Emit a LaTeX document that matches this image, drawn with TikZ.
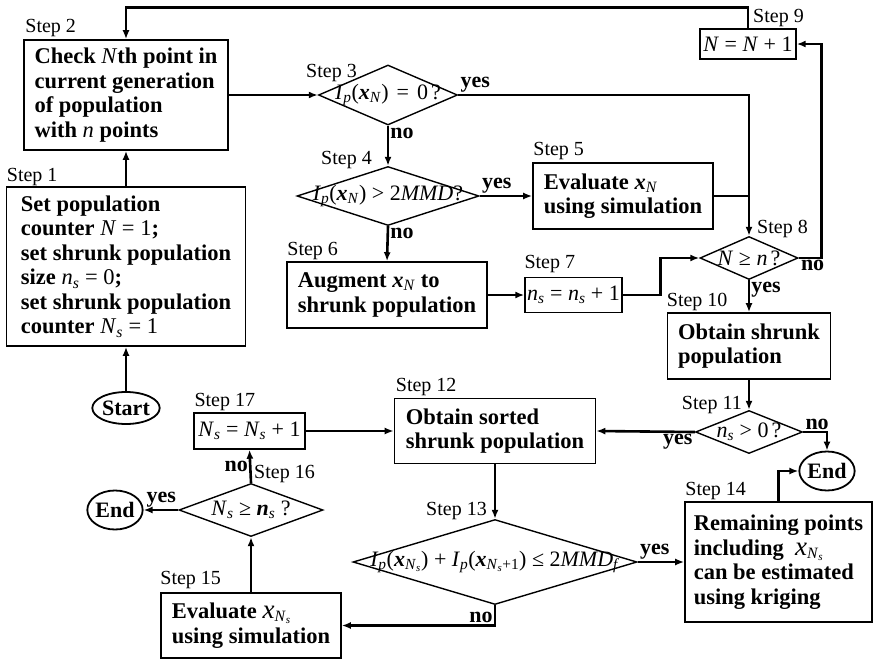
\documentclass[tikz,border=0pt]{standalone}
\usepackage{fontspec}
\setmainfont{Liberation Serif}
\usetikzlibrary{arrows.meta,positioning,shapes.geometric}
\newcommand\vi[1]{\textmd{\textit{#1}}}
\newcommand\vx{\textbf{\textit{x}}}
\newcommand\sub[1]{\textsubscript{#1}}
\newcommand\bigx{{\fontsize{27}{24.5}\selectfont\mdseries\itshape x}}
\newcommand\gap{\hspace{8pt}}
\tikzset{proc/.style={draw,line width=1.6pt,align=left,inner sep=0pt,
  font=\bfseries\fontsize{22.5}{24.5}\selectfont},
  eq/.style={draw,line width=1.4pt,inner sep=0pt,font=\fontsize{22}{24}\selectfont},
  dec/.style={diamond,draw,line width=1.4pt,inner sep=-80pt,font=\fontsize{22}{24}\selectfont},
  term/.style={ellipse,draw,line width=1.8pt,inner sep=0pt,font=\bfseries\fontsize{22}{24}\selectfont},
  lbl/.style={shape=rectangle,draw=none,inner sep=0pt,minimum width=0pt,minimum height=0pt,
    font=\mdseries\upshape\fontsize{20}{22}\selectfont},
  yn/.style={inner sep=1pt,font=\bfseries\fontsize{22}{24}\selectfont},
  arrow/.style={-{Latex[length=9pt,width=7pt]},line width=2.6pt}}
\begin{document}
\begin{tikzpicture}[x=1pt,y=-1pt]
\useasboundingbox (0,0) rectangle (873,659);
% left column
\node[proc,minimum width=204pt,minimum height=110pt,
  label={[lbl,anchor=base west,xshift=2pt,yshift=7pt]north west:Step 2}] (check) at (126,95)
  {Check \vi{N}th point in\\current generation\\of population\\with \vi{n} points};
\node[proc,minimum width=239pt,minimum height=159pt,
  label={[lbl,anchor=base west,xshift=1pt,yshift=5pt]north west:Step 1}] (init) at (126,266.5)
  {Set population\\counter \textmd{\textit{N} = 1};\\set shrunk population\\size \textmd{\textit{n}\sub{\textit{s}} = 0};\\set shrunk population\\counter \textmd{\textit{N}\sub{\textit{s}} = 1}};
\node[term,minimum width=64pt,minimum height=32pt] (start) at (126,408) {Start};
% top row
\node[eq,minimum width=96pt,minimum height=30pt,
  label={[lbl,anchor=base west,xshift=5pt,yshift=6pt]north:Step 9}] (incr) at (748,44)
  {\vi{N} = \vi{N} + 1};
\node[dec,minimum width=139pt,minimum height=60pt,
  label={[lbl,anchor=base east,xshift=-31pt,yshift=-13pt]north:Step 3}] (zero) at (388,95)
  {\vi{I}\sub{\vi{p}}(\vx\sub{\vi{N}})\gap=\gap0\hspace{3pt}?};
\node[dec,minimum width=182pt,minimum height=59pt,
  label={[lbl,anchor=base east,xshift=-16pt,yshift=1pt]north:Step 4}] (big) at (388,196)
  {\vi{I}\sub{\vi{p}}(\vx\sub{\vi{N}}) > 2\vi{MMD}?};
\node[proc,minimum width=180pt,minimum height=66pt,
  label={[lbl,anchor=base west,xshift=1pt,yshift=7pt]north west:Step 5}] (evalN) at (623,196)
  {Evaluate \vx\sub{\vi{N}}\\using simulation};
\node[proc,minimum width=200pt,minimum height=66pt,
  label={[lbl,anchor=base west,xshift=1pt,yshift=6pt]north west:Step 6}] (augment) at (387,295)
  {Augment \vx\sub{\vi{N}} to\\shrunk population};
\node[eq,minimum width=97pt,minimum height=35pt,
  label={[lbl,anchor=base west,xshift=0pt,yshift=8pt]north west:Step 7}] (count) at (573.5,295)
  {\vi{n}\sub{\vi{s}} = \vi{n}\sub{\vi{s}} + 1};
\node[dec,minimum width=98pt,minimum height=43pt,
  label={[lbl,anchor=base west,xshift=8pt,yshift=2pt]north:Step 8}] (done) at (749,258)
  {\vi{N} ≥ \vi{n}\hspace{3pt}?};
% right column
\node[proc,minimum width=163pt,minimum height=66pt,
  label={[lbl,anchor=base west,xshift=0pt,yshift=6pt]north west:Step 10}] (shrunk) at (749,346)
  {Obtain shrunk\\population};
\node[dec,minimum width=107pt,minimum height=43pt,
  label={[lbl,anchor=base east,xshift=-7pt,yshift=0pt]north:Step 11}] (empty) at (749,432)
  {\vi{n}\sub{\vi{s}} > 0\hspace{3pt}?};
\node[term,minimum width=54pt,minimum height=39pt] (endA) at (827,471) {End};
% bottom rows
\node[proc,minimum width=201pt,minimum height=65pt,
  label={[lbl,anchor=base west,xshift=2pt,yshift=6pt]north west:Step 12}] (sorted) at (495,431)
  {Obtain sorted\\shrunk population};
\node[eq,minimum width=111pt,minimum height=36pt,
  label={[lbl,anchor=base west,xshift=1pt,yshift=6pt]north west:Step 17}] (countS) at (249.5,431)
  {\vi{N}\sub{\vi{s}} = \vi{N}\sub{\vi{s}} + 1};
\node[dec,minimum width=144pt,minimum height=53pt,
  label={[lbl,anchor=base west,xshift=3pt,yshift=4pt]north:Step 16}] (last) at (251,510)
  {\vi{N}\sub{\vi{s}} ≥ \textbf{\textit{n}}\sub{\vi{s}} ?};
\node[term,minimum width=54pt,minimum height=39pt] (endB) at (115,510) {End};
\node[proc,minimum width=180pt,minimum height=65pt,
  label={[lbl,anchor=base west,xshift=0pt,yshift=8pt]north west:Step 15}] (evalS) at (251,625.5)
  {Evaluate \bigx\sub{\vi{N}\sub{\vi{s}}}\\using simulation};
\node[dec,minimum width=284pt,minimum height=85pt,
  label={[lbl,anchor=base east,xshift=-8pt,yshift=3pt]north:Step 13}] (crit) at (495,562)
  {\vi{I}\sub{\vi{p}}(\vx\sub{\vi{N}\sub{\vi{s}}}) + \vi{I}\sub{\vi{p}}(\vx\sub{\vi{N}\sub{\vi{s}}+1}) ≤ 2\vi{MMD}\sub{\vi{f}}};
\node[proc,minimum width=187pt,minimum height=120pt,
  label={[lbl,anchor=base west,xshift=1pt,yshift=6pt]north west:Step 14}] (krig) at (778.5,562)
  {Remaining points\\including \ \bigx\sub{\vi{N}\sub{\vi{s}}}\\can be estimated\\using kriging};
% connectors
\draw[arrow] (start) -- (init);
\draw[arrow] (init) -- (check);
\draw[arrow] (check) -- (zero);
\draw[arrow] (zero.east) node[yn,anchor=south west]{yes} -| (done.north);
\draw[arrow] (zero.south) node[yn,anchor=north west]{no} -- (big.north);
\draw[arrow] (big.east) node[yn,anchor=south west]{yes} -- (evalN.west);
\draw[line width=1.2pt] (evalN.east) -- (evalN.east -| done.north);
\draw[arrow] (big.south) node[yn,anchor=north west]{no} -- (augment.north);
\draw[arrow] (augment) -- (count);
\draw[arrow] (count.east) -- ++(38,0) |- (done.west);
\draw[arrow] (done.east) node[yn,anchor=north west]{no} -- ++(23,0) |- (incr.east);
\draw[arrow] (incr.north) -- ++(0,-21) -| (check.north);
\draw[arrow] (done.south) node[yn,anchor=north west]{yes} -- (shrunk.north);
\draw[arrow] (shrunk) -- (empty);
\draw[arrow] (empty.east) node[yn,anchor=south west]{no} -| (endA.north);
\draw[arrow] (empty.west) node[yn,anchor=north east]{yes} -- (sorted.east);
\draw[arrow] (sorted) -- (crit);
\draw[arrow] (crit.east) node[yn,anchor=south west]{yes} -- (krig.west);
\draw[arrow] (krig.north) |- (endA.west);
\draw[arrow] (crit.south) |- node[yn,pos=0.5,anchor=south east]{no} (evalS.east);
\draw[arrow] (evalS) -- (last);
\draw[arrow] (last.north) -- node[yn,left]{no} (countS.south);
\draw[arrow] (last.west) node[yn,anchor=south east]{yes} -- (endB);
\draw[arrow] (countS) -- (sorted);
\end{tikzpicture}
\end{document}
